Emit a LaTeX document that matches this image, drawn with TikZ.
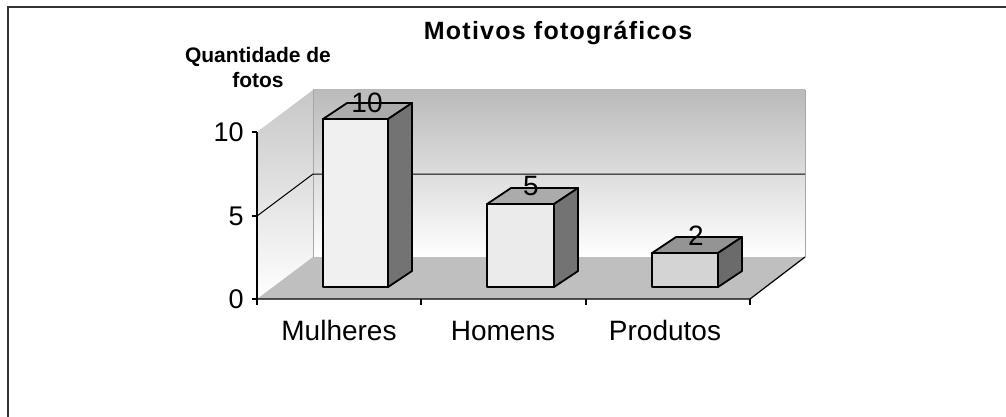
\documentclass[tikz,border=0pt]{standalone}
\usepackage{fontspec}
\setmainfont{Liberation Sans}
\newfontfamily\titlefont[LetterSpace=5]{Liberation Sans}

\begin{document}
\begin{tikzpicture}[x=0.5pt,y=-0.5pt,
    barface/.style={draw=black,line width=0.9pt,line join=round},
    wallline/.style={draw=black!35,line width=0.4pt},
    axisline/.style={draw=black,line width=0.6pt},
    val/.style={font=\fontsize{14}{16}\selectfont,inner sep=0pt},
    cat/.style={font=\fontsize{14}{16}\selectfont,anchor=base,inner sep=0pt},
    ylab/.style={font=\fontsize{13.5}{16}\selectfont,anchor=east,inner sep=0pt}]
    \newcommand{\depx}{24}
    \newcommand{\depy}{16}
    \useasboundingbox (0,0) rectangle (1006,417);

    % frame
    \draw [line width=1pt,color=black!80] (8,417) -- (8,7) -- (1006,7);

    % walls and floor
    \shade [top color=black!27,bottom color=white] (313,90) rectangle (805,257);
    \shade [top color=black!22,bottom color=white] (257,299) -- (257,132) -- (313,90) -- (313,257) -- cycle;
    \fill [black!25] (257,299) -- (750,299) -- (805,257) -- (313,257) -- cycle;
    \draw [wallline] (313,90) -- (313,257);
    \draw [wallline] (805,90) -- (805,257);
    \draw [line width=0.5pt] (257,216) -- (313,174) -- (805,174);

    % axes
    \draw [axisline] (257,132) -- (257,305);
    \draw [axisline] (257,299) -- (750,299) -- (805,257);
    \draw [axisline] (252,132) -- (257,132);
    \draw [axisline] (252,216) -- (257,216);
    \draw [axisline] (252,299) -- (257,299);
    \draw [axisline] (421,299) -- (421,305);
    \draw [axisline] (586,299) -- (586,305);
    \draw [axisline] (750,299) -- (750,305);

    \node [ylab] (y10) at (244,132) {10};
    \node [ylab] (y5) at (244,216) {5};
    \node [ylab] (y0) at (244,299) {0};

    % bars
    \filldraw [barface,fill=black!6] (323,287) rectangle (388,119);
    \filldraw [barface,fill=black!33] (323,119) -- (323+\depx,119-\depy) -- (388+\depx,119-\depy) -- (388,119) -- cycle;
    \filldraw [barface,fill=black!55] (388,119) -- (388+\depx,119-\depy) -- (388+\depx,287-\depy) -- (388,287) -- cycle;

    \filldraw [barface,fill=black!8] (487,287) rectangle (554,204);
    \filldraw [barface,fill=black!33] (487,204) -- (487+\depx,204-\depy) -- (554+\depx,204-\depy) -- (554,204) -- cycle;
    \filldraw [barface,fill=black!55] (554,204) -- (554+\depx,204-\depy) -- (554+\depx,287-\depy) -- (554,287) -- cycle;

    \filldraw [barface,fill=black!17] (652,287) rectangle (718,253);
    \filldraw [barface,fill=black!42] (652,253) -- (652+\depx,253-\depy) -- (718+\depx,253-\depy) -- (718,253) -- cycle;
    \filldraw [barface,fill=black!58] (718,253) -- (718+\depx,253-\depy) -- (718+\depx,287-\depy) -- (718,287) -- cycle;

    \node [val] (v1) at (367,103) {10};
    \node [val] (v2) at (531,186) {5};
    \node [val] (v3) at (696,236) {2};

    % labels
    \node [cat] (c1) at (339,340) {Mulheres};
    \node [cat] (c2) at (503,340) {Homens};
    \node [cat] (c3) at (665,340) {Produtos};

    \node [font=\titlefont\bfseries\fontsize{12.5}{15}\selectfont,anchor=base,inner sep=0pt] (title) at (558,40) {Motivos fotográficos};
    \node [font=\bfseries\fontsize{10.5}{12.5}\selectfont,anchor=base,inner sep=0pt] (q1) at (258,63) {Quantidade de};
    \node [font=\bfseries\fontsize{10.5}{12.5}\selectfont,anchor=base,inner sep=0pt] (q2) at (258,88) {fotos};

\end{tikzpicture}
\end{document}
